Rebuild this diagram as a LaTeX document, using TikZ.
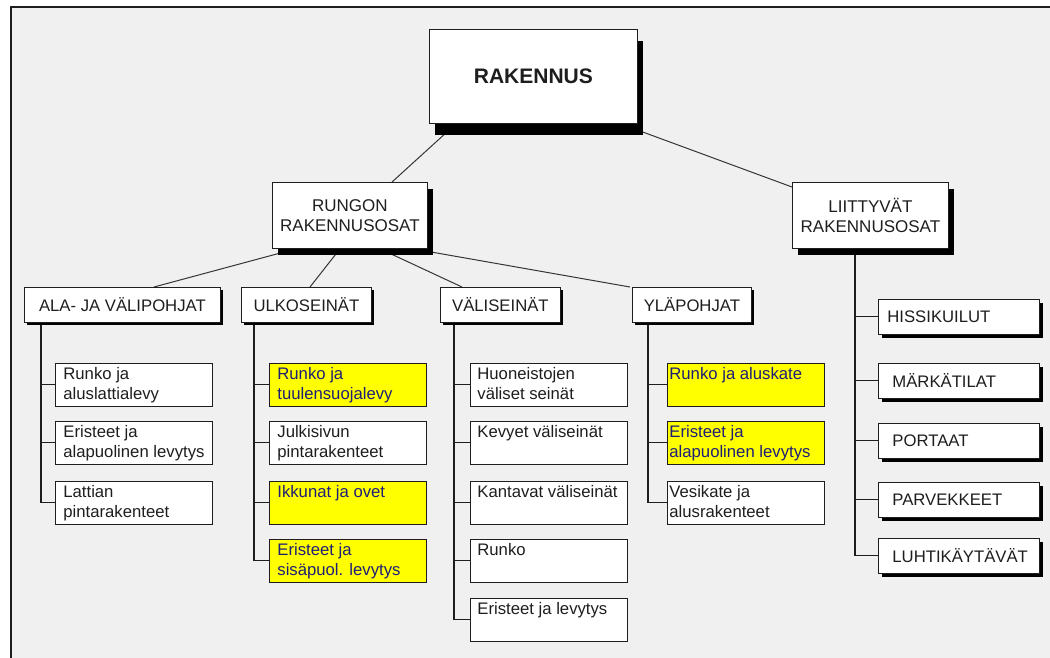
\documentclass[tikz,border=0pt]{standalone}
\usepackage{fontspec}
\setmainfont{Liberation Sans}
\usetikzlibrary{shadows}
\pgfdeclarelayer{back}
\pgfdeclarelayer{lines}
\pgfsetlayers{back,lines,main}
\definecolor{bgray}{HTML}{F0F0F0}
\definecolor{ink}{HTML}{1E1E1E}
\definecolor{hl}{HTML}{FFFF00}
\definecolor{hlink}{HTML}{1E1E78}
\newcommand\leaftext[2]{\parbox[t][43pt][t]{157pt}{\leftskip=#1pt\rightskip=0pt plus 1fil\parindent=0pt\rule{0pt}{16pt}#2}}
\newcommand\sidetext[2]{\makebox[161pt][l]{\hspace{#1pt}#2}}
\tikzset{
  boxbase/.style={draw=ink, line width=0.8pt, fill=white, inner sep=0pt, anchor=north west, text=ink},
  leafbox/.style={boxbase, font=\fontsize{16.7}{20}\selectfont},
  hlbox/.style={leafbox, fill=hl, text=hlink},
  catbox/.style={boxbase, font=\fontsize{16.7}{20}\selectfont, minimum height=35pt,
    drop shadow={shadow xshift=3pt, shadow yshift=-3pt, fill=black, opacity=1}},
  sidebox/.style={boxbase, font=\fontsize{16.7}{20}\selectfont, minimum height=35pt,
    drop shadow={shadow xshift=4pt, shadow yshift=-4pt, fill=black, opacity=1}},
  mainbox/.style={boxbase, font=\fontsize{17}{20}\selectfont, align=center, minimum height=66pt,
    drop shadow={shadow xshift=6pt, shadow yshift=-7pt, fill=black, opacity=1}},
  topbox/.style={boxbase, font=\fontsize{21}{24}\selectfont\bfseries, minimum width=208pt, minimum height=94pt,
    drop shadow={shadow xshift=6pt, shadow yshift=-12pt, fill=black, opacity=1}},
  diag/.style={draw=ink!90, line width=1pt},
  stem/.style={draw=ink, line width=1.3pt},
  twig/.style={draw=ink, line width=1pt},
}
\begin{document}
\begin{tikzpicture}[x=1pt, y=-1pt]
\useasboundingbox (0,0) rectangle (1050,657);
\clip (0,0) rectangle (1050,657);
\begin{pgfonlayer}{back}
  \fill[bgray] (11,7) rectangle (1070,680);
  \draw[ink, line width=2pt] (1070,7) -- (11,7) -- (11,680);
\end{pgfonlayer}

% top levels
\node[topbox] (rak) at (429,29) {RAKENNUS};
\node[mainbox, minimum width=155pt] (rung) at (272,182) {RUNGON\\RAKENNUSOSAT};
\node[mainbox, minimum width=156pt] (liit) at (792,182) {LIITTYVÄT\\RAKENNUSOSAT};

% categories
\node[catbox, minimum width=196pt] (ala) at (24,287) {ALA- JA VÄLIPOHJAT};
\node[catbox, minimum width=130pt] (ulko) at (241,287) {ULKOSEINÄT};
\node[catbox, minimum width=120pt] (vali) at (440,287) {VÄLISEINÄT};
\node[catbox, minimum width=119pt] (yla) at (632,287) {YLÄPOHJAT};

% ala- ja välipohjat
\node[leafbox] (a1) at (55,363) {\leaftext{8}{Runko ja\\aluslattialevy}};
\node[leafbox] (a2) at (55,421) {\leaftext{8}{Eristeet ja\\alapuolinen levytys}};
\node[leafbox] (a3) at (55,481) {\leaftext{8}{Lattian\\pintarakenteet}};

% ulkoseinät
\node[hlbox] (u1) at (269,363) {\leaftext{8}{Runko ja\\tuulensuojalevy}};
\node[leafbox] (u2) at (269,421) {\leaftext{8}{Julkisivun\\pintarakenteet}};
\node[hlbox] (u3) at (269,481) {\leaftext{8}{Ikkunat ja ovet}};
\node[hlbox] (u4) at (269,539) {\leaftext{8}{Eristeet ja\\sisäpuol. levytys}};

% väliseinät
\node[leafbox] (v1) at (470,363) {\leaftext{7}{Huoneistojen\\väliset seinät}};
\node[leafbox] (v2) at (470,421) {\leaftext{7}{Kevyet väliseinät}};
\node[leafbox] (v3) at (470,481) {\leaftext{7}{Kantavat väliseinät}};
\node[leafbox] (v4) at (470,539) {\leaftext{7}{Runko}};
\node[leafbox] (v5) at (470,598) {\leaftext{7}{Eristeet ja levytys}};

% yläpohjat
\node[hlbox] (y1) at (667,363) {\leaftext{2}{Runko ja aluskate}};
\node[hlbox] (y2) at (667,421) {\leaftext{2}{Eristeet ja\\alapuolinen levytys}};
\node[leafbox] (y3) at (667,481) {\leaftext{2}{Vesikate ja\\alusrakenteet}};

% liittyvät
\node[sidebox] (l1) at (878,299) {\sidetext{9}{HISSIKUILUT}};
\node[sidebox] (l2) at (878,363) {\sidetext{14}{MÄRKÄTILAT}};
\node[sidebox] (l3) at (878,423) {\sidetext{14}{PORTAAT}};
\node[sidebox] (l4) at (878,482) {\sidetext{14}{PARVEKKEET}};
\node[sidebox] (l5) at (878,538) {\sidetext{14}{LUHTIKÄYTÄVÄT}};

\begin{pgfonlayer}{lines}
  \draw[diag] ([xshift=27pt]rak.south west) -- ([xshift=120pt]rung.north west);
  \draw[diag] ([xshift=-1pt,yshift=-6pt]rak.south east) -- ([yshift=-5pt]liit.north west);
  \draw[diag] ([xshift=24pt]rung.south west) -- ([xshift=130pt]ala.north west);
  \draw[diag] ([xshift=68pt]rung.south west) -- ([xshift=69pt]ulko.north west);
  \draw[diag] ([xshift=108pt]rung.south west) -- ([xshift=22pt]vali.north west);
  \draw[diag] ([xshift=141pt]rung.south west) -- ([xshift=-2pt]yla.north west);

  \coordinate (sa) at ([xshift=17pt]ala.south west);
  \coordinate (su) at ([xshift=13pt]ulko.south west);
  \coordinate (sv) at ([xshift=14pt]vali.south west);
  \coordinate (sy) at ([xshift=16pt]yla.south west);
  \coordinate (sl) at ([xshift=63pt]liit.south west);

  \draw[stem] (sa) -- (sa |- a3.west);
  \foreach \n in {a1,a2,a3} \draw[twig] (sa |- \n.west) -- (\n.west);
  \draw[stem] (su) -- (su |- u4.west);
  \foreach \n in {u1,u2,u3,u4} \draw[twig] (su |- \n.west) -- (\n.west);
  \draw[stem] (sv) -- (sv |- v5.west);
  \foreach \n in {v1,v2,v3,v4,v5} \draw[twig] (sv |- \n.west) -- (\n.west);
  \draw[stem] (sy) -- (sy |- y3.west);
  \foreach \n in {y1,y2,y3} \draw[twig] (sy |- \n.west) -- (\n.west);
  \draw[stem, line width=1.8pt] (sl) -- (sl |- l5.west);
  \foreach \n in {l1,l2,l3,l4,l5} \draw[twig] (sl |- \n.west) -- (\n.west);
\end{pgfonlayer}
\end{tikzpicture}
\end{document}
